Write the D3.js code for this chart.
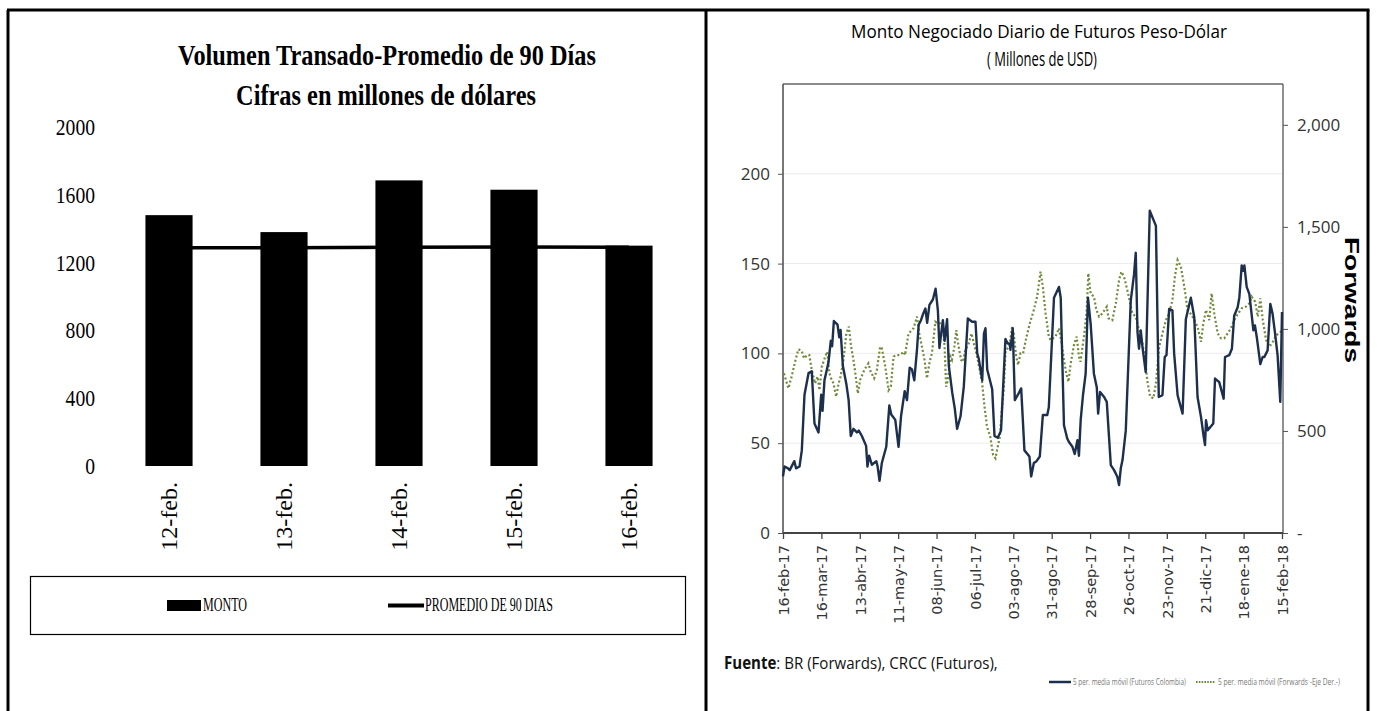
<!DOCTYPE html>
<html><head><meta charset="utf-8">
<script src="https://cdn.jsdelivr.net/npm/d3@7"></script>
<style>body{margin:0;background:#fff}svg{display:block}</style>
</head><body>
<svg id="c" width="1377" height="711"></svg>
<script>
// ---------- Left chart data ----------
const barCategories = ["12-feb.", "13-feb.", "14-feb.", "15-feb.", "16-feb."];
const montoValues = [1480, 1380, 1685, 1630, 1300];
const promedioValues = [1288, 1288, 1290, 1292, 1290];
const leftYTicks = [0, 400, 800, 1200, 1600, 2000];

// ---------- Right chart data ([business day since 16-feb-17, value]) ----------
const xTickLabels = ["16-feb-17","16-mar-17","13-abr-17","11-may-17","08-jun-17","06-jul-17","03-ago-17","31-ago-17","28-sep-17","26-oct-17","23-nov-17","21-dic-17","18-ene-18","15-feb-18"];
const xTickDays = [0,20,40,60,80,100,120,140,160,180,200,220,240,260];
const futurosTicks = [0, 50, 100, 150, 200];
const forwardsTicks = [0, 500, 1000, 1500, 2000];
const futuros = [[0,31.5],[0.8,37],[2.6,36],[3.5,35],[5.9,40],[6.8,36],[8.6,37],[9.8,46],[11.2,77],[13.3,89],[15,90],[16.4,61],[18.5,56],[19.9,77],[20.6,68],[21.6,85],[23.7,95],[24.9,107],[25.6,104],[26.5,118],[28.4,116],[29.3,109],[30,113],[31.2,93],[33,83],[34.2,74],[35.3,54],[36.7,58],[38.5,56],[39.5,57],[41.1,54],[43.3,48.5],[44,37],[44.9,43],[46.3,38],[48.6,40],[49.3,37],[50.3,29],[51.5,39],[53.8,48],[55.4,71],[56.4,66],[58.5,63],[60.2,48],[61.5,65],[63.4,79],[64.6,74],[66,92],[67.2,91],[68.4,85],[69.8,102],[70.7,116],[71.9,118.5],[73,122],[74.2,125],[75.1,117],[76.3,127],[78.1,130],[79.5,136],[80.7,124],[81.5,103],[83.3,118.5],[84.2,107],[85.5,119],[86.4,93],[88.2,78],[89.5,69.4],[90.7,58],[92.5,65],[94.2,81.5],[96.3,119.4],[98.5,117.6],[100.3,117.6],[101.2,100],[102,97],[103.8,85],[104.7,111],[105.5,114],[106.4,91],[109,80],[110.2,54],[111.9,53],[113.6,57],[115.9,108],[117.1,105.5],[118.1,105.5],[118.5,102],[119.7,114],[120.8,74],[122.4,77],[124.1,80.5],[125.8,46],[128.4,42.6],[129.3,31.5],[130.7,39],[132.1,40],[133.8,42.6],[135.4,65.7],[137.7,65.7],[138.5,70],[141.2,131],[143.8,137],[144.7,131],[146.4,60],[148.1,52.6],[149,50.7],[150.8,48],[152,44],[153.4,51.7],[154.2,43],[155.1,62.8],[156.3,76.7],[157.7,88.7],[158.9,131],[160.3,116.5],[162,88.7],[163.5,81],[164.2,66.5],[165.2,78.5],[167.3,75.7],[168.7,73],[170.8,37.8],[172.5,35],[174.2,31.3],[175.1,26.7],[176,36],[176.9,40.6],[178.6,57],[179.8,90.5],[181.2,129.4],[182.9,144],[183.8,156],[184.7,112],[185.5,102.6],[186.4,112.8],[187.3,103.5],[189,89.6],[191.1,179.4],[194.3,171],[195.8,75.7],[197.7,76.7],[198.9,98],[199.8,99],[201.2,124.8],[202.9,124],[203.8,100],[205.6,76.7],[208.2,66.5],[209.9,119],[212.5,131],[214.3,120],[216,75.7],[217.8,64.6],[219.2,53.5],[219.9,49],[220.4,62.8],[221.3,57.2],[224.2,61],[225.1,86],[227.3,84],[229.6,74.8],[230.3,98],[232.5,99],[233.9,102.6],[235.1,121],[236.9,125.7],[237.8,131.3],[239,149],[239.9,146],[240.4,149],[241.6,137],[243,133],[245.1,112.8],[245.9,115.6],[247,108],[248.7,94],[249.9,98],[250.8,98],[252.5,101.7],[253.9,127.6],[255.1,122],[256.4,111],[257.7,99],[259.1,73],[260,123]];
const forwards = [[0.5,782],[2.8,709],[4.5,766],[6.3,839],[8,900],[9.7,893],[11,856],[12.7,872],[13.7,872],[15,798],[16.7,733],[18,766],[19,700],[20.2,815],[22,864],[23,888],[24.2,782],[25,758],[26.3,733],[27.7,668],[29,733],[30,766],[31.5,848],[33,978],[34.3,1011],[35.5,913],[36.7,848],[37.6,790],[39,684],[40.2,750],[42.3,798],[44.5,831],[45.7,790],[47.5,758],[48.9,798],[50.6,913],[51.5,905],[53.3,815],[55,700],[56.2,717],[57.6,864],[59,872],[60.7,872],[61.9,880],[63,888],[63.6,872],[65.4,978],[66.3,986],[68,1003],[69.8,1060],[71,978],[72.4,913],[73.6,856],[75,758],[76.4,839],[77.6,880],[79.4,1035],[80.6,1027],[82,1027],[83.4,1003],[84.2,913],[85,717],[85.9,750],[87.2,864],[88,848],[89.3,913],[90.3,994],[91.5,913],[92.8,848],[93.8,839],[95,897],[96.8,929],[98.2,978],[99.4,929],[100.8,880],[102.5,798],[103.7,741],[105,619],[106.3,521],[108,472],[109.5,382],[110.7,366],[111.9,423],[113,472],[114,603],[115,700],[116,897],[117.1,905],[118,921],[119.4,1011],[120.2,978],[121.5,864],[122.5,823],[123.7,880],[125.1,880],[126.7,954],[128.6,1027],[130.7,1093],[132.4,1158],[134.2,1280],[135.4,1207],[136.8,1076],[138.5,962],[139.4,946],[142,962],[143.8,1003],[145.2,929],[146.4,848],[147.6,782],[148.7,741],[149.9,831],[151.6,921],[153,962],[154.2,864],[155,839],[156.8,962],[158.2,1084],[159.1,1272],[160.3,1174],[162,1158],[163.3,1093],[164.7,1060],[166.4,1076],[168.7,1109],[169.6,1052],[171.6,1043],[173.4,1125],[175.1,1239],[176.3,1280],[177.7,1256],[179.8,1174],[182,1076],[183.8,1060],[185.5,994],[187.3,929],[188.7,848],[189.9,741],[191.3,668],[193,660],[194.3,733],[196,913],[197.7,978],[199.5,1043],[201.2,1076],[202.9,1141],[204.2,1256],[205.6,1337],[207.3,1305],[209.1,1207],[210.8,1093],[212.9,1068],[214.3,1043],[216,1011],[217.8,937],[219,1027],[220.4,1093],[222.1,1043],[223.3,1174],[224.7,1076],[226.5,978],[228.2,954],[229.9,954],[231.7,978],[233.4,1003],[235.1,1043],[237.2,1076],[239,1101],[241.2,1109],[243,1125],[244.2,1158],[246,1133],[247.4,1060],[248.7,1150],[250,1043],[251.7,946],[253.5,913],[255.2,937],[257,970],[258.7,978],[260,994]];

const svg = d3.select("#c");

// scale a text element horizontally so that it spans `w` pixels
function fit(sel, x, y, w) {
  sel.attr("x", 0).attr("y", 0);
  const n = sel.node().getComputedTextLength();
  sel.attr("transform", `translate(${x},${y}) scale(${w / n},1)`);
  return sel;
}

// ---------- frame ----------
const frame = svg.append("g").attr("stroke", "#000").attr("stroke-width", 3);
frame.append("line").attr("x1", 7).attr("x2", 1369.5).attr("y1", 10).attr("y2", 10);
[8, 706, 1368].forEach(x => frame.append("line").attr("x1", x).attr("x2", x).attr("y1", 10).attr("y2", 711));

// ---------- LEFT CHART ----------
const serif = "'Liberation Serif','Times New Roman',serif";
const L = svg.append("g");
const xb = d3.scaleBand().domain(barCategories).range([111.5, 686.5]).paddingInner(0.59).paddingOuter(0.295);
const yb = d3.scaleLinear().domain([0, 2000]).range([466, 127]);

fit(L.append("text").attr("text-anchor", "middle")
  .attr("font-family", serif).attr("font-weight", "bold").attr("font-size", 30)
  .text("Volumen Transado-Promedio de 90 Días"), 387, 65, 418);
fit(L.append("text").attr("text-anchor", "middle")
  .attr("font-family", serif).attr("font-weight", "bold").attr("font-size", 30)
  .text("Cifras en millones de dólares"), 386, 105, 300);

L.selectAll("text.yl").data(leftYTicks).join("text").attr("class", "yl")
  .attr("text-anchor", "end").attr("font-family", serif).attr("font-size", 24)
  .text(d => d)
  .each(function (d) { fit(d3.select(this), 95, yb(d) + 8, String(d).length * 9.8); });

L.selectAll("rect.bar").data(montoValues).join("rect").attr("class", "bar")
  .attr("x", (d, i) => xb(barCategories[i])).attr("width", xb.bandwidth())
  .attr("y", d => yb(d)).attr("height", d => yb(0) - yb(d)).attr("fill", "#000");

L.append("path").datum(promedioValues)
  .attr("d", d3.line().x((d, i) => xb(barCategories[i]) + xb.bandwidth() / 2).y(d => yb(d)))
  .attr("fill", "none").attr("stroke", "#000").attr("stroke-width", 3.5);

L.selectAll("text.xl").data(barCategories).join("text").attr("class", "xl")
  .attr("transform", d => `translate(${xb(d) + xb.bandwidth() / 2},482) rotate(-90)`)
  .attr("dy", "0.35em").attr("text-anchor", "end")
  .attr("font-family", serif).attr("font-size", 24).text(d => d);

// legend
L.append("rect").attr("x", 30.5).attr("y", 576.5).attr("width", 655).attr("height", 58)
  .attr("fill", "#fff").attr("stroke", "#000").attr("stroke-width", 1.2);
L.append("rect").attr("x", 167).attr("y", 600).attr("width", 34).attr("height", 11).attr("fill", "#000");
fit(L.append("text").attr("font-family", serif).attr("font-size", 18).text("MONTO"), 203, 611, 44);
L.append("line").attr("x1", 388).attr("x2", 424).attr("y1", 605.5).attr("y2", 605.5)
  .attr("stroke", "#000").attr("stroke-width", 4);
fit(L.append("text").attr("font-family", serif).attr("font-size", 18).text("PROMEDIO DE 90 DIAS"), 425, 611, 128);

// ---------- RIGHT CHART ----------
const sans = "'Liberation Sans Narrow','Open Sans','Liberation Sans',sans-serif";
const R = svg.append("g");
const x = d3.scaleLinear().domain([0, 260]).range([783, 1282]);
const yL = d3.scaleLinear().domain([0, 250]).range([533, 84]);
const yR = d3.scaleLinear().domain([0, 2200]).range([533, 84]);

fit(R.append("text").attr("text-anchor", "middle")
  .attr("font-family", sans).attr("font-size", 19).attr("fill", "#000")
  .text("Monto Negociado Diario de Futuros Peso-Dólar"), 1039, 38, 376);
fit(R.append("text").attr("text-anchor", "middle")
  .attr("font-family", sans).attr("font-size", 20).attr("fill", "#000")
  .text("( Millones de USD)"), 1042, 66, 110);

// gridlines
R.selectAll("line.grid").data(futurosTicks.filter(d => d > 0)).join("line").attr("class", "grid")
  .attr("x1", 783).attr("x2", 1283).attr("y1", d => yL(d)).attr("y2", d => yL(d))
  .attr("stroke", "#ececec").attr("stroke-width", 1);

// plot border top
R.append("line").attr("x1", 783).attr("x2", 1283).attr("y1", 84).attr("y2", 84).attr("stroke", "#666").attr("stroke-width", 1.5);

// left axis
const axL = R.append("g").attr("transform", "translate(783,0)")
  .call(d3.axisLeft(yL).tickValues(futurosTicks).tickSize(5).tickPadding(8));
axL.select(".domain").attr("stroke", "#555").attr("stroke-width", 1.6).attr("d", "M0,84V533");
axL.selectAll(".tick line").attr("stroke", "#555");
axL.selectAll(".tick text").attr("font-family", sans).attr("font-size", 17).attr("fill", "#333");

// right axis
const axR = R.append("g").attr("transform", "translate(1283,0)")
  .call(d3.axisRight(yR).tickValues(forwardsTicks).tickSize(5).tickPadding(9)
    .tickFormat(d => d === 0 ? "-" : d3.format(",")(d)));
axR.select(".domain").attr("stroke", "#555").attr("stroke-width", 1.3).attr("d", "M0,84V533");
axR.selectAll(".tick line").attr("stroke", "#555");
axR.selectAll(".tick text").attr("font-family", sans).attr("font-size", 17).attr("fill", "#333");

// bottom axis
const axB = R.append("g").attr("transform", "translate(0,533)")
  .call(d3.axisBottom(x).tickValues(xTickDays).tickSize(6).tickFormat((d, i) => xTickLabels[i]));
axB.select(".domain").attr("stroke", "#444").attr("stroke-width", 2).attr("d", "M783,0H1283");
axB.selectAll(".tick line").attr("stroke", "#444").attr("stroke-width", 1.3);
axB.selectAll(".tick text").attr("transform", "rotate(-90)").attr("text-anchor", "end")
  .attr("x", -12).attr("y", 0).attr("dy", "0.36em")
  .attr("font-family", "'DejaVu Sans',Verdana,sans-serif").attr("font-size", 14.5).attr("fill", "#333");

// series
R.append("path").datum(forwards)
  .attr("d", d3.line().x(d => x(d[0])).y(d => yR(d[1])))
  .attr("fill", "none").attr("stroke", "#6f8a3a").attr("stroke-width", 2.2)
  .attr("stroke-dasharray", "2,2.3");
R.append("path").datum(futuros)
  .attr("d", d3.line().x(d => x(d[0])).y(d => yL(d[1])))
  .attr("fill", "none").attr("stroke", "#1c2f4c").attr("stroke-width", 2.4)
  .attr("stroke-linejoin", "round");

// right axis title
const fw = R.append("text").attr("text-anchor", "middle")
  .attr("font-family", "'Liberation Sans',Arial,sans-serif").attr("font-weight", "bold")
  .attr("font-size", 21).attr("fill", "#000").text("Forwards").attr("x", 0).attr("y", 0);
fw.attr("transform", `translate(1345,300) rotate(90) scale(${126 / fw.node().getComputedTextLength()},1)`);

// source note
const src = R.append("text").attr("font-family", sans).attr("font-size", 17).attr("fill", "#111");
src.append("tspan").attr("font-weight", "bold").text("Fuente");
src.append("tspan").text(": BR (Forwards), CRCC (Futuros),");
fit(src, 724, 669, 274);

// legend
R.append("line").attr("x1", 1049).attr("x2", 1071).attr("y1", 682).attr("y2", 682)
  .attr("stroke", "#1c2f4c").attr("stroke-width", 2.5);
fit(R.append("text").attr("font-family", sans).attr("font-size", 9).attr("fill", "#777")
  .text("5 per. media móvil (Futuros Colombia)"), 1073, 685, 113);
R.append("line").attr("x1", 1196).attr("x2", 1215).attr("y1", 682).attr("y2", 682)
  .attr("stroke", "#6f8a3a").attr("stroke-width", 2).attr("stroke-dasharray", "1.6,1.2");
fit(R.append("text").attr("font-family", sans).attr("font-size", 9).attr("fill", "#777")
  .text("5 per. media móvil (Forwards -Eje Der.-)"), 1218, 685, 122);
</script>
</body></html>
